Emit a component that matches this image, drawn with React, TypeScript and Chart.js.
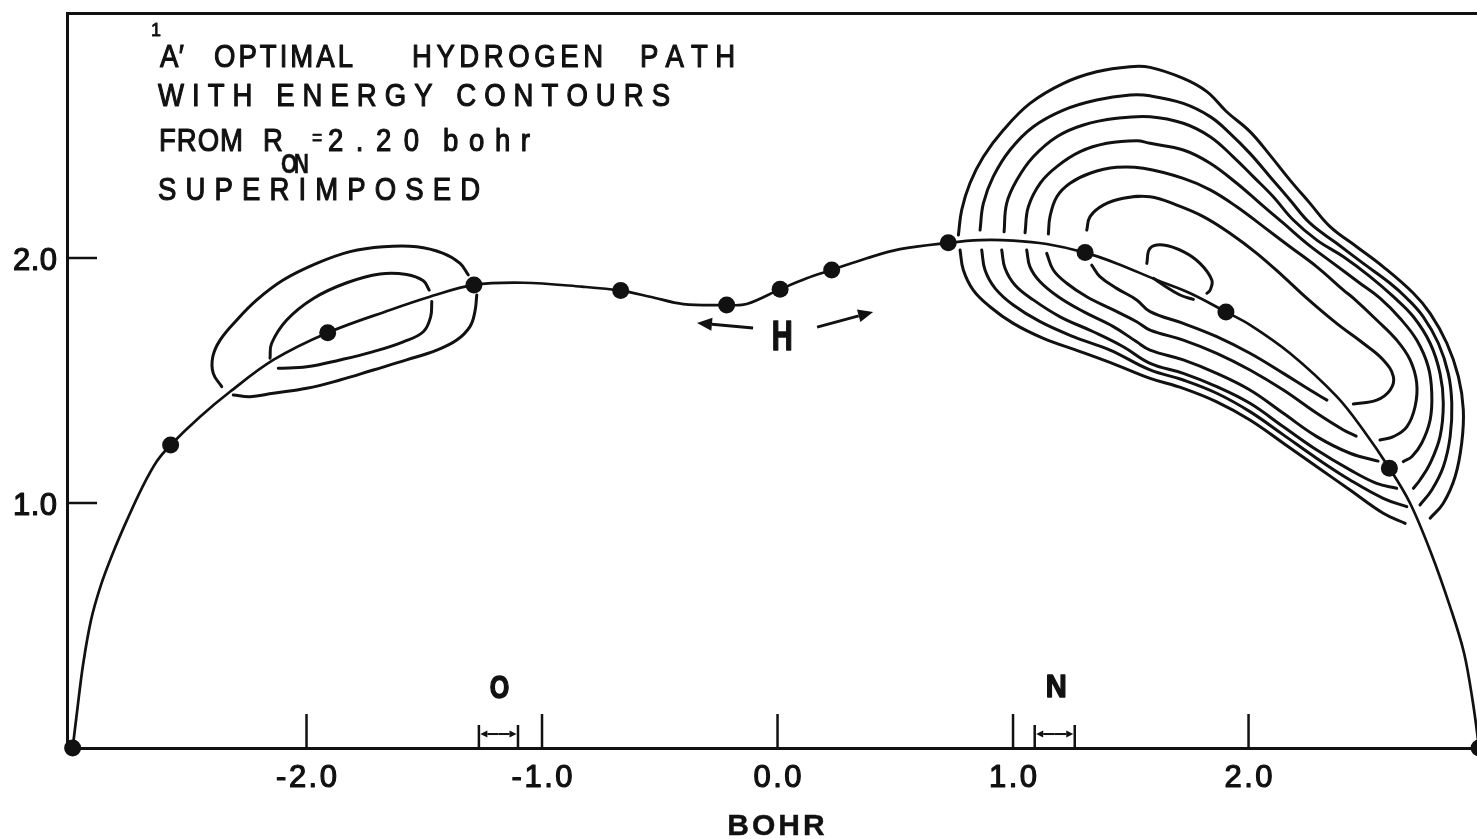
import React, { useEffect, useRef } from 'react';
import { Chart, registerables } from 'chart.js';

Chart.register(...registerables);

type P = [number, number];

// ---------- axes ----------
const X_MIN = -3.017;
const X_MAX = 3.021;
const Y_MIN = 0;
const Y_MAX = 3.0;
const X_TICKS = [-2, -1, 0, 1, 2];
const X_TICK_LABELS = ['-2.0', '-1.0', '0.0', '1.0', '2.0'];
const Y_TICKS = [1, 2];
const Y_TICK_LABELS = ['1.0', '2.0'];
const X_TITLE = 'BOHR';

// ---------- texts ----------
const TITLE_SUP = '1';
const TITLE_STATE = 'A\u2032';
const TITLE_L1 = ['OPTIMAL', 'HYDROGEN', 'PATH'];
const TITLE_L2 = 'WITH ENERGY CONTOURS';
const TITLE_L3_A = 'FROM';
const TITLE_L3_R = 'R';
const TITLE_L3_SUB = 'ON';
const TITLE_L3_EQ = '=';
const TITLE_L3_VAL = '2.20';
const TITLE_L3_UNIT = 'bohr';
const TITLE_L4 = 'SUPERIMPOSED';
const LABEL_H = 'H';
const LABEL_O = 'O';
const LABEL_N = 'N';

// ---------- annotation positions (bohr) ----------
const LABEL_H_POS: P = [0.02, 1.624];
const LABEL_O_POS: P = [-1.181, 0.204];
const LABEL_N_POS: P = [1.183, 0.208];
const ARROW_LEFT: P[] = [[-0.104, 1.714], [-0.342, 1.735]];
const ARROW_RIGHT: P[] = [[0.168, 1.718], [0.406, 1.78]];
const O_SPAN = [-1.268, -1.102];
const N_SPAN = [1.092, 1.262];
const BRACKET_TOP = 0.094;
const BRACKET_MID = 0.057;

// ---------- optimal hydrogen path ----------
const PATH_DOTS: P[] = [
  [-2.993, 0], [-2.577, 1.237], [-1.91, 1.695], [-1.289, 1.89], [-0.666, 1.867],
  [-0.216, 1.808], [0.011, 1.872], [0.23, 1.951], [0.725, 2.062], [1.306, 2.022],
  [1.904, 1.78], [2.598, 1.142], [2.979, 0],
];

const PATH_LINE: P[] = [
  [-2.993, 0], [-2.975, 0.143], [-2.949, 0.339], [-2.915, 0.522], [-2.873, 0.665],
  [-2.822, 0.796], [-2.762, 0.931], [-2.699, 1.061], [-2.635, 1.171], [-2.577, 1.237],
  [-2.452, 1.352], [-2.325, 1.454], [-2.141, 1.584], [-1.91, 1.695], [-1.645, 1.788],
  [-1.476, 1.842], [-1.289, 1.89], [-1.079, 1.899], [-0.831, 1.883], [-0.666, 1.867],
  [-0.541, 1.842], [-0.4, 1.812], [-0.216, 1.808], [-0.131, 1.812], [0.011, 1.872],
  [0.124, 1.917], [0.23, 1.951], [0.379, 1.999], [0.52, 2.036], [0.725, 2.062],
  [0.86, 2.073], [1.001, 2.071], [1.143, 2.057], [1.306, 2.022], [1.44, 1.978],
  [1.61, 1.91], [1.752, 1.856], [1.904, 1.78], [2.006, 1.727], [2.176, 1.611],
  [2.375, 1.434], [2.487, 1.298], [2.598, 1.142], [2.686, 0.999], [2.775, 0.796],
  [2.856, 0.576], [2.915, 0.388], [2.953, 0.184], [2.979, 0],
];

// ---------- left (O side) contours ----------
const LEFT_OUTER_UPPER: P[] = [
  [-2.36, 1.475], [-2.396, 1.529], [-2.398, 1.597], [-2.367, 1.665], [-2.296, 1.747],
  [-2.211, 1.829], [-2.099, 1.91], [-1.957, 1.978], [-1.815, 2.026], [-1.674, 2.046],
  [-1.532, 2.046], [-1.419, 2.019], [-1.348, 1.978], [-1.313, 1.931],
];
const LEFT_OUTER_LOWER: P[] = [
  [-1.277, 1.849], [-1.285, 1.781], [-1.306, 1.72], [-1.362, 1.665], [-1.447, 1.624],
  [-1.575, 1.584], [-1.716, 1.543], [-1.858, 1.502], [-1.999, 1.468], [-2.141, 1.448],
  [-2.24, 1.434], [-2.311, 1.441],
];
const LEFT_INNER_UPPER: P[] = [
  [-2.155, 1.591], [-2.148, 1.652], [-2.084, 1.747], [-1.971, 1.835], [-1.829, 1.899],
  [-1.688, 1.935], [-1.575, 1.933], [-1.504, 1.907], [-1.479, 1.869],
];
const LEFT_INNER_LOWER: P[] = [
  [-1.468, 1.822], [-1.473, 1.76], [-1.504, 1.699], [-1.589, 1.658], [-1.716, 1.618],
  [-1.858, 1.584], [-1.999, 1.556], [-2.12, 1.55],
];

// ---------- right (N side) contours, outermost C1 to innermost C6 ----------
const RIGHT_C1_UPPER: P[] = [
  [0.768, 2.094], [0.782, 2.196], [0.817, 2.305], [0.874, 2.413], [0.959, 2.522],
  [1.072, 2.631], [1.214, 2.713], [1.355, 2.76], [1.497, 2.781], [1.582, 2.778],
  [1.723, 2.733], [1.823, 2.679], [1.907, 2.597], [2.006, 2.516], [2.091, 2.42],
  [2.176, 2.318], [2.261, 2.223], [2.346, 2.128], [2.459, 2.046], [2.572, 1.964],
  [2.7, 1.856], [2.771, 1.774], [2.842, 1.652], [2.891, 1.516], [2.912, 1.38],
  [2.905, 1.244], [2.877, 1.107], [2.827, 0.999], [2.771, 0.938],
];
const RIGHT_C1_LOWER: P[] = [
  [0.775, 2.033], [0.789, 1.951], [0.831, 1.869], [0.902, 1.801], [1.001, 1.733],
  [1.129, 1.672], [1.285, 1.618], [1.44, 1.563], [1.582, 1.509], [1.723, 1.468],
  [1.865, 1.413], [2.006, 1.339], [2.148, 1.244], [2.29, 1.148], [2.431, 1.053],
  [2.572, 0.958], [2.665, 0.917],
];
const RIGHT_C2_UPPER: P[] = [
  [0.86, 2.114], [0.874, 2.223], [0.916, 2.332], [0.987, 2.441], [1.086, 2.536],
  [1.214, 2.604], [1.355, 2.645], [1.497, 2.665], [1.582, 2.662], [1.723, 2.631],
  [1.837, 2.577], [1.921, 2.509], [2.006, 2.427], [2.091, 2.332], [2.176, 2.237],
  [2.261, 2.142], [2.374, 2.06], [2.487, 1.978], [2.601, 1.897], [2.672, 1.836],
  [2.742, 1.76], [2.806, 1.652], [2.848, 1.529], [2.863, 1.407], [2.856, 1.271],
  [2.827, 1.148], [2.778, 1.053], [2.728, 0.992],
];
const RIGHT_C2_LOWER: P[] = [
  [0.867, 2.033], [0.881, 1.951], [0.924, 1.876], [1.001, 1.808], [1.115, 1.74],
  [1.256, 1.679], [1.412, 1.624], [1.582, 1.543], [1.723, 1.502], [1.865, 1.448],
  [2.006, 1.373], [2.148, 1.278], [2.29, 1.182], [2.431, 1.094], [2.572, 1.019],
  [2.672, 0.985],
];
const RIGHT_C3_UPPER: P[] = [
  [0.962, 2.107], [0.973, 2.223], [1.016, 2.318], [1.086, 2.413], [1.186, 2.495],
  [1.299, 2.543], [1.44, 2.57], [1.582, 2.577], [1.723, 2.55], [1.837, 2.495],
  [1.935, 2.413], [2.02, 2.332], [2.105, 2.25], [2.19, 2.155], [2.29, 2.073],
  [2.403, 2.005], [2.516, 1.924], [2.615, 1.842], [2.7, 1.76], [2.771, 1.652],
  [2.813, 1.529], [2.827, 1.407], [2.813, 1.271], [2.771, 1.162], [2.728, 1.094],
  [2.7, 1.06],
];
const RIGHT_C3_LOWER: P[] = [
  [0.952, 2.033], [0.966, 1.958], [1.008, 1.89], [1.086, 1.829], [1.2, 1.76],
  [1.341, 1.699], [1.468, 1.638], [1.582, 1.57], [1.723, 1.529], [1.865, 1.475],
  [2.006, 1.407], [2.148, 1.311], [2.29, 1.216], [2.431, 1.135], [2.544, 1.08],
  [2.629, 1.06],
];
const RIGHT_C4_UPPER: P[] = [
  [1.051, 2.103], [1.065, 2.209], [1.115, 2.305], [1.186, 2.373], [1.285, 2.434],
  [1.398, 2.468], [1.525, 2.479], [1.582, 2.468], [1.723, 2.441], [1.837, 2.387],
  [1.95, 2.305], [2.049, 2.223], [2.148, 2.142], [2.247, 2.06], [2.36, 1.978],
  [2.473, 1.897], [2.558, 1.836], [2.643, 1.754], [2.714, 1.665], [2.763, 1.556],
  [2.778, 1.448], [2.771, 1.339], [2.735, 1.244], [2.693, 1.189], [2.657, 1.169],
];
const RIGHT_C4_LOWER: P[] = [
  [1.058, 2.033], [1.072, 1.964], [1.115, 1.903], [1.192, 1.842], [1.299, 1.781],
  [1.426, 1.72], [1.525, 1.658], [1.582, 1.624], [1.723, 1.584], [1.865, 1.529],
  [2.006, 1.461], [2.148, 1.366], [2.29, 1.271], [2.431, 1.203], [2.55, 1.171],
];
const RIGHT_C5_UPPER: P[] = [
  [1.15, 2.098], [1.157, 2.169], [1.186, 2.25], [1.242, 2.305], [1.327, 2.346],
  [1.44, 2.37], [1.553, 2.366], [1.723, 2.325], [1.837, 2.278], [1.95, 2.209],
  [2.063, 2.128], [2.176, 2.046], [2.29, 1.964], [2.403, 1.869], [2.445, 1.836],
  [2.544, 1.747], [2.629, 1.665], [2.686, 1.584], [2.714, 1.489], [2.707, 1.393],
  [2.672, 1.311], [2.615, 1.271], [2.558, 1.257],
];
const RIGHT_C5_LOWER: P[] = [
  [1.143, 2.019], [1.171, 1.951], [1.228, 1.897], [1.313, 1.842], [1.426, 1.788],
  [1.525, 1.74], [1.582, 1.706], [1.723, 1.665], [1.865, 1.611], [2.006, 1.543],
  [2.148, 1.461], [2.29, 1.366], [2.403, 1.298], [2.457, 1.273],
];
const RIGHT_C6_UPPER: P[] = [
  [1.313, 2.114], [1.327, 2.169], [1.383, 2.216], [1.468, 2.244], [1.582, 2.25],
  [1.695, 2.216], [1.808, 2.169], [1.921, 2.101], [2.035, 2.019], [2.148, 1.924],
  [2.247, 1.836], [2.374, 1.733], [2.487, 1.652], [2.572, 1.584], [2.615, 1.516],
  [2.601, 1.461], [2.544, 1.42], [2.445, 1.404],
];
const RIGHT_C6_LOWER: P[] = [
  [1.334, 1.971], [1.369, 1.924], [1.44, 1.876], [1.525, 1.829], [1.582, 1.781],
  [1.723, 1.733], [1.865, 1.679], [2.006, 1.611], [2.148, 1.529], [2.261, 1.461],
  [2.333, 1.42],
];
const RIGHT_CORE_UPPER: P[] = [
  [1.568, 1.978], [1.582, 2.04], [1.638, 2.053], [1.723, 2.026], [1.794, 1.978],
  [1.844, 1.91], [1.837, 1.869], [1.823, 1.856],
];
const RIGHT_CORE_LOWER: P[] = [
  [1.596, 1.917], [1.638, 1.89], [1.709, 1.849], [1.766, 1.831],
];

const CONTOURS: P[][] = [
  LEFT_OUTER_UPPER, LEFT_OUTER_LOWER, LEFT_INNER_UPPER, LEFT_INNER_LOWER,
  RIGHT_C1_UPPER, RIGHT_C1_LOWER, RIGHT_C2_UPPER, RIGHT_C2_LOWER,
  RIGHT_C3_UPPER, RIGHT_C3_LOWER, RIGHT_C4_UPPER, RIGHT_C4_LOWER,
  RIGHT_C5_UPPER, RIGHT_C5_LOWER, RIGHT_C6_UPPER, RIGHT_C6_LOWER,
  RIGHT_CORE_UPPER, RIGHT_CORE_LOWER,
];

const INK = '#111111';
const SANS = '"Liberation Sans", Arial, Helvetica, sans-serif';

const toXY = (pts: P[]) => pts.map(([x, y]) => ({ x, y }));

function paint(ctx: CanvasRenderingContext2D, c: string, x: number, y: number, sw: number) {
  ctx.fillText(c, x, y);
  if (sw > 0) {
    ctx.lineWidth = sw;
    ctx.strokeText(c, x, y);
  }
}

function fitChars(ctx: CanvasRenderingContext2D, text: string, x0: number, x1: number, y: number, sx: number, sw: number) {
  const chars = Array.from(text);
  const ws = chars.map((c) => ctx.measureText(c).width * sx);
  const total = ws.reduce((a, b) => a + b, 0);
  const gap = chars.length > 1 ? (x1 - x0 - total) / (chars.length - 1) : 0;
  let x = x0;
  ctx.textAlign = 'left';
  chars.forEach((c, i) => {
    ctx.save();
    ctx.translate(x, y);
    ctx.scale(sx, 1);
    paint(ctx, c, 0, 0, sw / sx);
    ctx.restore();
    x += ws[i] + gap;
  });
}

function spacedAt(ctx: CanvasRenderingContext2D, text: string, x: number, y: number, gap: number, align: string, sw: number) {
  const chars = Array.from(text);
  const ws = chars.map((c) => ctx.measureText(c).width);
  const total = ws.reduce((a, b) => a + b, 0) + gap * (chars.length - 1);
  let cx = align === 'center' ? x - total / 2 : align === 'right' ? x - total : x;
  ctx.textAlign = 'left';
  chars.forEach((c, i) => {
    paint(ctx, c, cx, y, sw);
    cx += ws[i] + gap;
  });
}

function scaledText(ctx: CanvasRenderingContext2D, text: string, cx: number, y: number, targetW: number, sw: number) {
  const w = ctx.measureText(text).width;
  const k = targetW / w;
  ctx.save();
  ctx.translate(cx, y);
  ctx.scale(k, 1);
  ctx.textAlign = 'center';
  paint(ctx, text, 0, 0, sw);
  ctx.restore();
}

function arrow(ctx: CanvasRenderingContext2D, x0: number, y0: number, x1: number, y1: number, len: number, half: number, lw: number) {
  const ang = Math.atan2(y1 - y0, x1 - x0);
  const bx = x1 - len * Math.cos(ang);
  const by = y1 - len * Math.sin(ang);
  ctx.lineWidth = lw;
  ctx.beginPath();
  ctx.moveTo(x0, y0);
  ctx.lineTo(bx, by);
  ctx.stroke();
  ctx.beginPath();
  ctx.moveTo(x1, y1);
  ctx.lineTo(bx + half * Math.sin(ang), by - half * Math.cos(ang));
  ctx.lineTo(bx - half * Math.sin(ang), by + half * Math.cos(ang));
  ctx.closePath();
  ctx.fill();
}

const annotations = {
  id: 'annotations',
  afterDraw(chart: any) {
    const { ctx, chartArea: a } = chart;
    const X = (v: number) => chart.scales.x.getPixelForValue(v);
    const Y = (v: number) => chart.scales.y.getPixelForValue(v);
    ctx.save();
    ctx.fillStyle = INK;
    ctx.strokeStyle = INK;
    ctx.lineCap = 'butt';
    ctx.lineJoin = 'round';
    ctx.textBaseline = 'alphabetic';

    // inward tick marks
    ctx.lineWidth = 2.5;
    X_TICKS.forEach((v) => {
      ctx.beginPath();
      ctx.moveTo(X(v), a.bottom);
      ctx.lineTo(X(v), a.bottom - 34);
      ctx.stroke();
    });
    Y_TICKS.forEach((v) => {
      ctx.beginPath();
      ctx.moveTo(a.left, Y(v));
      ctx.lineTo(a.left + 30, Y(v));
      ctx.stroke();
    });

    // tick labels
    ctx.font = `31px ${SANS}`;
    X_TICKS.forEach((v, i) => spacedAt(ctx, X_TICK_LABELS[i], X(v), a.bottom + 39, 2.5, 'center', 1.2));
    Y_TICKS.forEach((v, i) => spacedAt(ctx, Y_TICK_LABELS[i], a.left - 10, Y(v) + 12, 0.5, 'right', 1.2));

    // axis title
    ctx.font = `bold 30px ${SANS}`;
    spacedAt(ctx, X_TITLE, (a.left + a.right) / 2 - 2, a.bottom + 87, 3, 'center', 0.4);

    // title block
    const L = a.left;
    const T = a.top;
    const SX = 0.86;
    const SW = 1.0;
    ctx.font = `18px ${SANS}`;
    ctx.textAlign = 'left';
    paint(ctx, TITLE_SUP, L + 84, T + 23, 0.8);
    ctx.font = `32px ${SANS}`;
    fitChars(ctx, TITLE_STATE, L + 93, L + 117, T + 54, SX, SW);
    fitChars(ctx, TITLE_L1[0], L + 147, L + 286, T + 54, SX, SW);
    fitChars(ctx, TITLE_L1[1], L + 345, L + 536, T + 54, SX, SW);
    fitChars(ctx, TITLE_L1[2], L + 573, L + 668, T + 54, SX, SW);
    fitChars(ctx, TITLE_L2, L + 91, L + 603, T + 93, SX, SW);
    fitChars(ctx, TITLE_L3_A, L + 92, L + 176, T + 138, SX, SW);
    fitChars(ctx, TITLE_L3_R, L + 196, L + 212, T + 138, SX, SW);
    fitChars(ctx, TITLE_L3_VAL, L + 261, L + 352, T + 138, SX, SW);
    fitChars(ctx, TITLE_L3_UNIT, L + 376, L + 463, T + 138, SX, SW);
    fitChars(ctx, TITLE_L4, L + 91, L + 413, T + 187, SX, SW);
    ctx.font = `bold 27px ${SANS}`;
    fitChars(ctx, TITLE_L3_SUB, L + 214, L + 242, T + 160, 0.78, 0.3);
    ctx.font = `22px ${SANS}`;
    fitChars(ctx, TITLE_L3_EQ, L + 245, L + 255, T + 132, 0.8, 0.6);

    // atom / hydrogen labels
    ctx.font = `bold 42px ${SANS}`;
    scaledText(ctx, LABEL_H, X(LABEL_H_POS[0]), Y(LABEL_H_POS[1]), 21, 1.5);
    ctx.font = `bold 32px ${SANS}`;
    scaledText(ctx, LABEL_O, X(LABEL_O_POS[0]), Y(LABEL_O_POS[1]), 19.5, 1.5);
    scaledText(ctx, LABEL_N, X(LABEL_N_POS[0]), Y(LABEL_N_POS[1]), 21, 1.5);

    // hydrogen motion arrows
    arrow(ctx, X(ARROW_LEFT[0][0]), Y(ARROW_LEFT[0][1]), X(ARROW_LEFT[1][0]), Y(ARROW_LEFT[1][1]), 15, 6.5, 3);
    arrow(ctx, X(ARROW_RIGHT[0][0]), Y(ARROW_RIGHT[0][1]), X(ARROW_RIGHT[1][0]), Y(ARROW_RIGHT[1][1]), 15, 6.5, 3);

    // atom position brackets
    [O_SPAN, N_SPAN].forEach(([s, e]) => {
      const x0 = X(s);
      const x1 = X(e);
      const yb = Y(0);
      const yt = Y(BRACKET_TOP);
      const ym = Y(BRACKET_MID);
      ctx.lineWidth = 2.5;
      ctx.beginPath();
      ctx.moveTo(x0, yb);
      ctx.lineTo(x0, yt);
      ctx.moveTo(x1, yb);
      ctx.lineTo(x1, yt);
      ctx.stroke();
      const mid = (x0 + x1) / 2;
      arrow(ctx, mid, ym, x0 + 1.5, ym, 7, 3.5, 2);
      arrow(ctx, mid, ym, x1 - 1.5, ym, 7, 3.5, 2);
    });

    ctx.restore();
  },
};

export default function App() {
  const ref = useRef<HTMLCanvasElement>(null);

  useEffect(() => {
    const canvas = ref.current;
    if (!canvas) return;

    const contourSets = CONTOURS.map((pts) => ({
      data: toXY(pts),
      showLine: true,
      borderColor: INK,
      backgroundColor: INK,
      borderWidth: 3,
      pointRadius: 0,
      pointHoverRadius: 0,
      tension: 0.4,
      borderCapStyle: 'round',
      borderJoinStyle: 'round',
      fill: false,
    }));

    const chart = new Chart(canvas, {
      type: 'scatter',
      data: {
        datasets: [
          {
            data: toXY(PATH_DOTS),
            showLine: false,
            pointRadius: 8.5,
            pointHoverRadius: 8.5,
            pointStyle: 'circle',
            pointBackgroundColor: INK,
            pointBorderColor: INK,
            pointBorderWidth: 0,
            backgroundColor: INK,
            borderColor: INK,
            clip: false,
          } as any,
          {
            data: toXY(PATH_LINE),
            showLine: true,
            borderColor: INK,
            backgroundColor: INK,
            borderWidth: 2.7,
            pointRadius: 0,
            pointHoverRadius: 0,
            tension: 0.35,
            borderCapStyle: 'round',
            borderJoinStyle: 'round',
            fill: false,
          } as any,
          ...(contourSets as any[]),
        ],
      },
      options: {
        responsive: false,
        animation: false,
        events: [],
        layout: { padding: { left: 0, right: 11, top: 0, bottom: 0 }, autoPadding: false } as any,
        plugins: {
          legend: { display: false },
          tooltip: { enabled: false },
          title: { display: false },
        },
        scales: {
          x: {
            type: 'linear',
            position: 'bottom',
            min: X_MIN,
            max: X_MAX,
            grid: { display: false, drawTicks: false },
            border: { display: true, color: INK, width: 3 },
            ticks: { display: false },
            afterFit: (s: any) => { s.height = 91; },
          },
          xTop: {
            type: 'linear',
            position: 'top',
            min: X_MIN,
            max: X_MAX,
            grid: { display: false, drawTicks: false },
            border: { display: true, color: INK, width: 3 },
            ticks: { display: false },
            afterFit: (s: any) => { s.height = 13; },
          },
          y: {
            type: 'linear',
            position: 'left',
            min: Y_MIN,
            max: Y_MAX,
            grid: { display: false, drawTicks: false },
            border: { display: true, color: INK, width: 3 },
            ticks: { display: false },
            afterFit: (s: any) => { s.width = 67; },
          },
        } as any,
      },
      plugins: [annotations as any],
    });

    return () => chart.destroy();
  }, []);

  return (
    <div
      style={{
        position: 'fixed',
        left: 0,
        top: 0,
        width: 1477,
        height: 839,
        overflow: 'hidden',
        background: '#ffffff',
      }}
    >
      <canvas ref={ref} width={1500} height={839} style={{ display: 'block', width: 1500, height: 839 }} />
    </div>
  );
}
